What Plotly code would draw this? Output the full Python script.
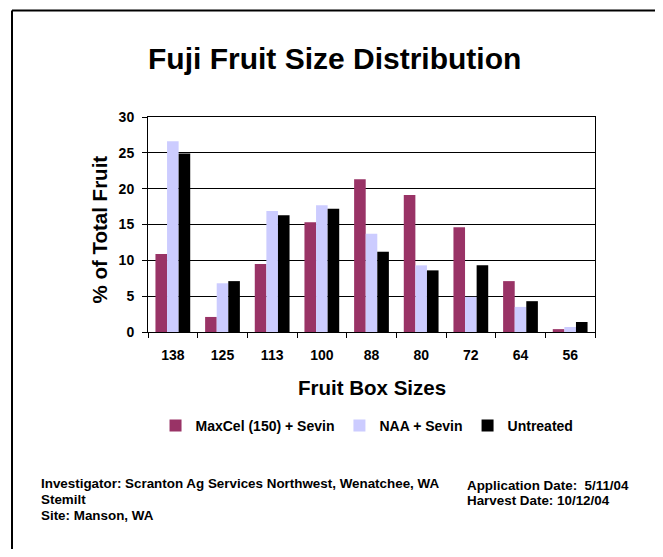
import plotly.graph_objects as go

sizes = ["138", "125", "113", "100", "88", "80", "72", "64", "56"]
maxcel = [10.9, 2.1, 9.5, 15.3, 21.3, 19.1, 14.6, 7.1, 0.4]
naa = [26.6, 6.8, 16.9, 17.7, 13.7, 9.3, 4.9, 3.5, 0.7]
untreated = [24.9, 7.1, 16.3, 17.2, 11.2, 8.6, 9.3, 4.3, 1.4]

series_names = ["MaxCel (150) + Sevin", "NAA + Sevin", "Untreated"]
series_colors = ["#993366", "#CCCCFF", "#000000"]

# the page body has an 8px margin, so the figure starts at (8, 8) in the window;
# keep the figure small enough that no scrollbar appears
OFF = 8
W, H = 663 - OFF, 557 - 2 * OFF
PL, PR, PT, PB = 148, 595, 117, 332  # plot area edges in window pixels
L, T = PL - OFF, PT - OFF
R, B = W - (PR - OFF), H - (PB - OFF)
PW, PH = PR - PL, PB - PT


def px(x):
    return (x - PL) / PW


def py(y):
    return (PB - y) / PH


FONT = "Liberation Sans, Arial, Helvetica, sans-serif"

fig = go.Figure()
for name, vals, col in zip(series_names, [maxcel, naa, untreated], series_colors):
    fig.add_trace(go.Bar(x=sizes, y=vals, name=name, marker=dict(color=col, line=dict(width=0))))

fig.update_layout(
    width=W, height=H,
    margin=dict(l=L, r=R, t=T, b=B, pad=0),
    paper_bgcolor="white", plot_bgcolor="white",
    barmode="group", bargap=0.3, bargroupgap=0,
    font=dict(family=FONT, color="black"),
    showlegend=True,
    legend=dict(orientation="h", x=0.49, xanchor="center", y=py(426), yanchor="middle",
                font=dict(size=14, family=FONT, color="black", weight="bold"),
                itemclick=False, tracegroupgap=0),
    xaxis=dict(type="category", showline=True, linecolor="black", linewidth=1, mirror=True,
               ticks="outside", ticklen=5, tickcolor="black", tickson="boundaries",
               ticklabelstandoff=10, showgrid=False,
               tickfont=dict(size=14, family=FONT, weight="bold")),
    yaxis=dict(range=[0, 30], dtick=5, showline=True, linecolor="black", linewidth=1, mirror=True,
               ticks="outside", ticklen=5, tickcolor="black", showgrid=True, gridcolor="black",
               gridwidth=1, zeroline=False, ticklabelstandoff=5,
               tickfont=dict(size=14, family=FONT, weight="bold")),
)

ann = [
    dict(text="<b>Fuji Fruit Size Distribution</b>", x=px(334.5), y=py(59), size=30, xanchor="center", angle=0),
    dict(text="<b>Fruit Box Sizes</b>", x=px(371.5), y=py(387), size=20.5, xanchor="center", angle=0),
    dict(text="<b>% of Total Fruit</b>", x=px(99), y=py(229.5), size=20.5, xanchor="center", angle=-90),
    dict(text="<b>Investigator: Scranton Ag Services Northwest, Wenatchee, WA</b>", x=px(38.5), y=py(483), size=13.4, xanchor="left", angle=0),
    dict(text="<b>Stemilt</b>", x=px(38.5), y=py(499), size=13.4, xanchor="left", angle=0),
    dict(text="<b>Site: Manson, WA</b>", x=px(38.5), y=py(515.5), size=13.4, xanchor="left", angle=0),
    dict(text="<b>Application Date:\u00a0 5/11/04</b>", x=px(465), y=py(485), size=13.4, xanchor="left", angle=0),
    dict(text="<b>Harvest Date: 10/12/04</b>", x=px(465), y=py(500), size=13.4, xanchor="left", angle=0),
]
for a in ann:
    fig.add_annotation(text=a["text"], x=a["x"], y=a["y"], xref="paper", yref="paper",
                       xanchor=a["xanchor"], yanchor="middle", showarrow=False, textangle=a["angle"],
                       font=dict(size=a["size"], family=FONT, color="black"))

# outer chart frame: only its left and top edges fall inside the picture
frame = dict(color="black", width=2)
fig.add_shape(type="line", xref="paper", yref="paper",
              x0=px(12), y0=py(620), x1=px(12), y1=py(10.5), line=frame, layer="above")
fig.add_shape(type="line", xref="paper", yref="paper",
              x0=px(12), y0=py(10.5), x1=px(720), y1=py(10.5), line=frame, layer="above")

fig.write_html("out.html", config={"displayModeBar": False})
